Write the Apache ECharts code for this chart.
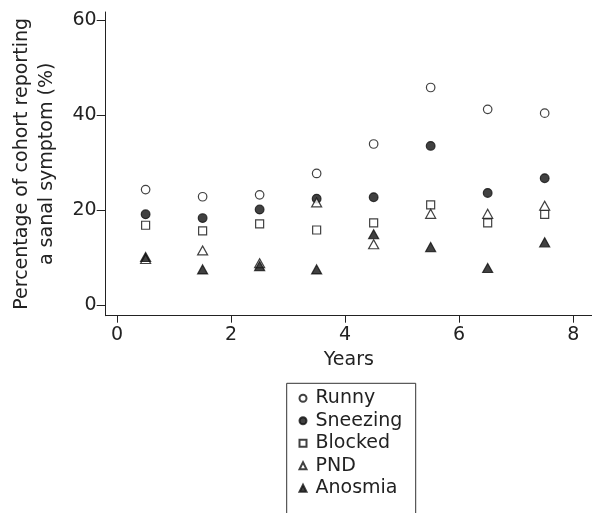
<!DOCTYPE html>
<html>
<head>
<meta charset="utf-8">
<script src="https://cdn.jsdelivr.net/npm/echarts@6/dist/echarts.min.js"></script>
<style>
  html, body { margin: 0; padding: 0; background: #fff; }
  #chart { width: 592px; height: 513px; }
</style>
</head>
<body>
<div id="chart"></div>
<script>
var years = [0.5, 1.5, 2.5, 3.5, 4.5, 5.5, 6.5, 7.5];
var runny = [24.3, 22.8, 23.2, 27.7, 33.9, 45.8, 41.2, 40.4];
var sneezing = [19.1, 18.3, 20.1, 22.4, 22.7, 33.5, 23.6, 26.7];
var blocked = [16.8, 15.6, 17.1, 15.8, 17.3, 21.1, 17.3, 19.1];
var pnd = [9.7, 11.5, 8.8, 21.6, 12.8, 19.2, 19.2, 20.9];
var anosmia = [10.1, 7.5, 8.2, 7.5, 14.9, 12.2, 7.8, 13.2];
var xTicks = [0, 2, 4, 6, 8];
var yTicks = [0, 20, 40, 60];

var FONT = 'DejaVu Sans, Liberation Sans, sans-serif';

function pairs(vals) {
    return vals.map(function (v, i) { return [years[i], v]; });
}

function makeSeries(name, vals, symbol, size, filled) {
    return {
        name: name,
        type: 'scatter',
        data: pairs(vals),
        symbol: symbol,
        symbolSize: size,
        itemStyle: {
            color: filled ? '#111' : '#fff',
            borderColor: '#111',
            borderWidth: 1.2
        },
        emphasis: { disabled: true }
    };
}

var chartDom = document.getElementById('chart');
var myChart = echarts.init(chartDom);
var option;

option = {
    animation: false,
    textStyle: { fontFamily: FONT, color: '#222' },
    grid: { left: 105.7, right: 0, top: 12, bottom: 197.3, outerBoundsMode: 'none' },
    xAxis: {
        type: 'value',
        min: -0.2,
        max: 8.33,
        splitLine: { show: false },
        axisLine: { onZero: false, lineStyle: { color: '#222', width: 1 } },
        axisTick: { show: true, length: 7, customValues: xTicks, lineStyle: { color: '#222' } },
        axisLabel: { customValues: xTicks, fontSize: 19, color: '#222', margin: 10 },
        name: 'Years',
        nameLocation: 'middle',
        nameGap: 35,
        nameTextStyle: { fontSize: 19, color: '#222' }
    },
    yAxis: {
        type: 'value',
        min: -2.25,
        max: 61.7,
        splitLine: { show: false },
        axisLine: { show: true, onZero: false, lineStyle: { color: '#222', width: 1 } },
        axisTick: { show: true, length: 9, customValues: yTicks, lineStyle: { color: '#222' } },
        axisLabel: { customValues: yTicks, fontSize: 19, color: '#222', margin: 9 },
        name: 'Percentage of cohort reporting\na sanal symptom (%)',
        nameLocation: 'middle',
        nameGap: 46.5,
        nameTextStyle: { fontSize: 19, color: '#222', lineHeight: 25 }
    },
    legend: {
        orient: 'vertical',
        left: 298.5,
        top: 387,
        padding: 0,
        itemWidth: 7,
        itemHeight: 7,
        itemGap: 0,
        textStyle: { fontSize: 19, color: '#222', padding: [0, 0, 0, 4], lineHeight: 22.5 },
        data: ['Runny', 'Sneezing', 'Blocked', 'PND', 'Anosmia']
    },
    graphic: [{
        type: 'rect',
        silent: true,
        shape: { x: 286.7, y: 383.3, width: 129, height: 140 },
        style: { fill: 'none', stroke: '#333', lineWidth: 1 }
    }],
    series: [
        makeSeries('Runny', runny, 'circle', 8.5, false),
        makeSeries('Sneezing', sneezing, 'circle', 8.7, true),
        makeSeries('Blocked', blocked, 'rect', 8, false),
        makeSeries('PND', pnd, 'triangle', [10, 9], false),
        makeSeries('Anosmia', anosmia, 'triangle', [10, 9], true)
    ]
};

option && myChart.setOption(option);
</script>
</body>
</html>
